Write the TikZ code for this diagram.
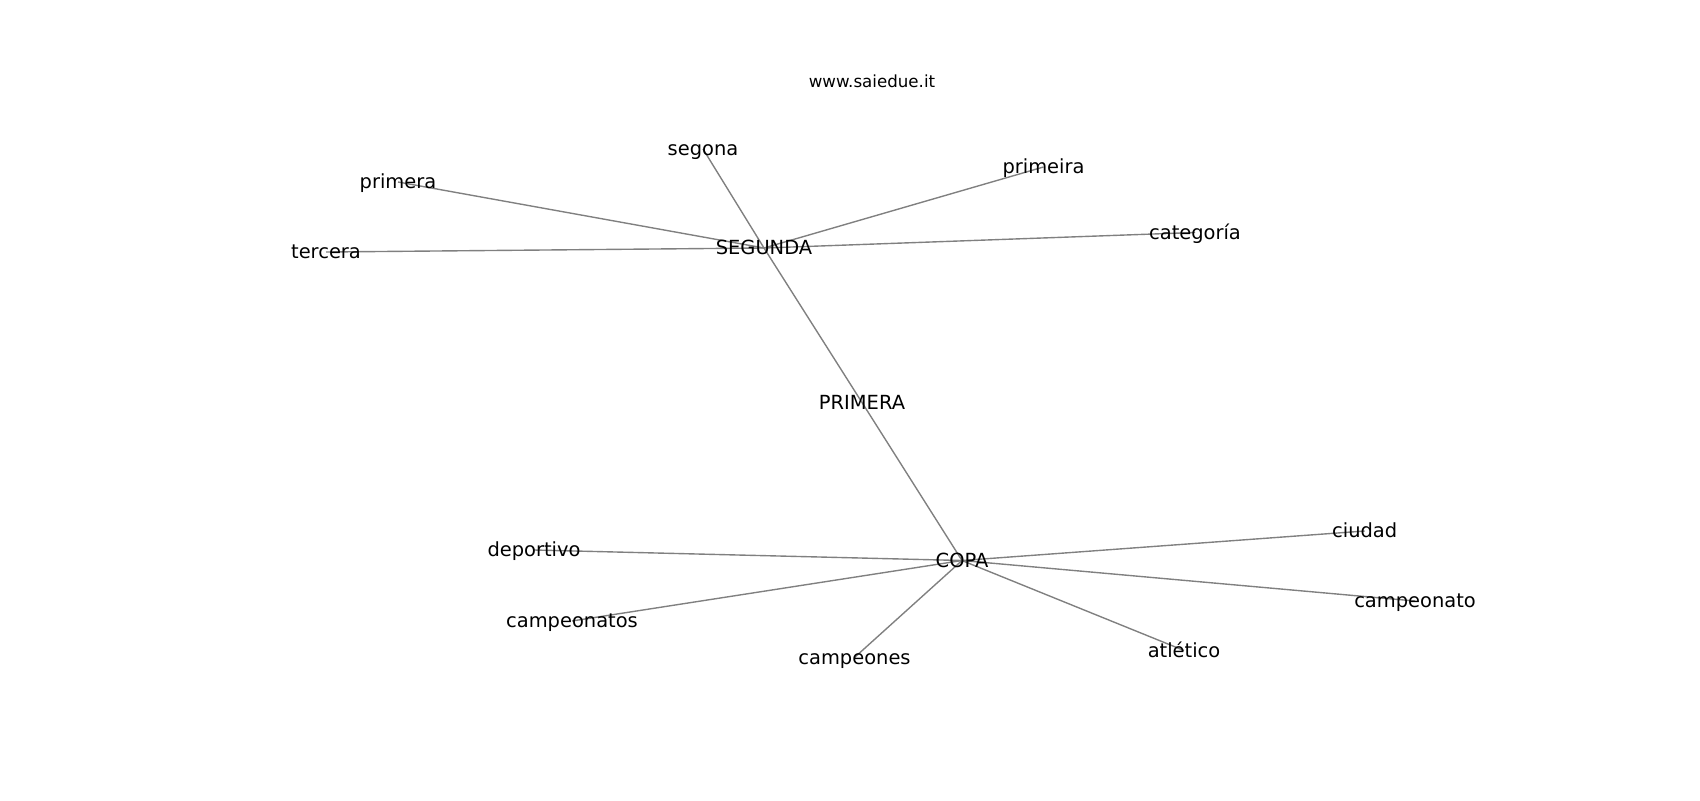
\documentclass[tikz,border=0pt]{standalone}
\usepackage{fontspec}
\setmainfont{DejaVu Sans}
\usetikzlibrary{backgrounds}
\begin{document}
\begin{tikzpicture}[x=0.72pt,y=-0.72pt,
  lbl/.style={inner sep=0pt, font=\fontsize{14}{16.8}\selectfont, text height=12.9pt, text depth=2.91pt, text=black},
  ttl/.style={inner sep=0pt, font=\fontsize{12}{14.4}\selectfont, text height=9.12pt, text depth=2.5pt, text=black},
  edge/.style={draw=gray, line width=1pt}]
\useasboundingbox (0,0) rectangle (1700,800);
\node[ttl] (title) at (872,82.5) {www.saiedue.it};
\node[lbl] (segona) at (703,149) {segona};
\node[lbl] (primera) at (398,182) {primera};
\node[lbl] (tercera) at (326,252) {tercera};
\node[lbl] (SEGUNDA) at (764,248) {SEGUNDA};
\node[lbl] (primeira) at (1043.5,167) {primeira};
\node[lbl] (categoria) at (1195,232.5) {categoría};
\node[lbl] (PRIMERA) at (862,402.5) {PRIMERA};
\node[lbl] (deportivo) at (534,550) {deportivo};
\node[lbl] (COPA) at (962,560.5) {COPA};
\node[lbl] (ciudad) at (1364.7,531) {ciudad};
\node[lbl] (campeonato) at (1415,601) {campeonato};
\node[lbl] (campeonatos) at (572,621) {campeonatos};
\node[lbl] (campeones) at (854.5,657.5) {campeones};
\node[lbl] (atletico) at (1184,650.5) {atlético};
\begin{pgfonlayer}{background}
\foreach \n in {segona,primera,tercera,primeira,categoria,PRIMERA}
  \draw[edge] (SEGUNDA.center) -- (\n.center);
\draw[edge] (PRIMERA.center) -- (COPA.center);
\foreach \n in {deportivo,ciudad,campeonato,campeonatos,campeones,atletico}
  \draw[edge] (COPA.center) -- (\n.center);
\end{pgfonlayer}
\end{tikzpicture}
\end{document}
